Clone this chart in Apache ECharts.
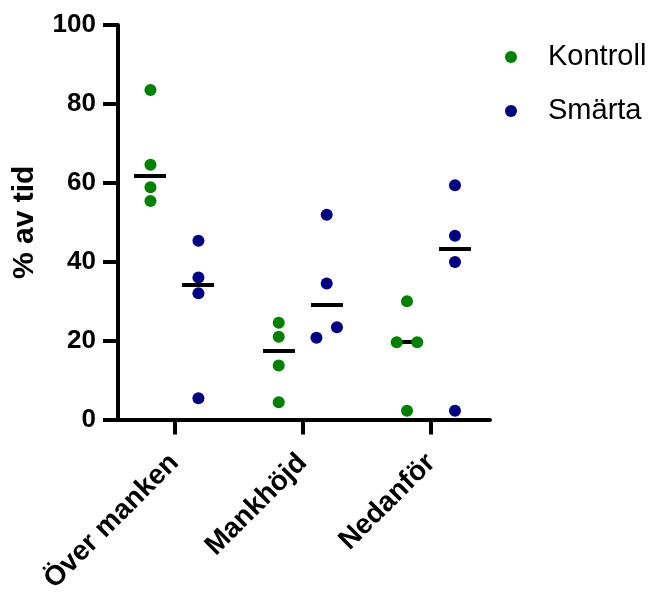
<!DOCTYPE html>
<html>
<head>
<meta charset="utf-8">
<script src="https://cdn.jsdelivr.net/npm/echarts@6/dist/echarts.min.js"></script>
<style>html,body{margin:0;padding:0;background:#fff}#c{width:650px;height:592px}</style>
</head>
<body>
<div id="c"></div>
<script>
const categories = ['Över manken', 'Mankhöjd', 'Nedanför'];
const seriesNames = ['Kontroll', 'Smärta'];
const kontroll = [[83.5, 64.6, 58.9, 55.4], [24.5, 21.0, 13.7, 4.4], [30.0, 19.6, 19.6, 2.2]];
const smarta = [[45.3, 36.0, 32.0, 5.4], [51.9, 34.5, 23.4, 20.7], [59.4, 46.6, 39.9, 2.2]];
const yTicks = [0, 20, 40, 60, 80, 100];

const FONT = '"Liberation Sans", Arial, Helvetica, sans-serif';
const groupOffset = 0.187;
const jitterStep = 0.08;
const closeThreshold = 3;

function median(a) {
  const s = a.slice().sort((x, y) => x - y);
  const n = s.length;
  return n % 2 ? s[(n - 1) / 2] : (s[n / 2 - 1] + s[n / 2]) / 2;
}
// simple beeswarm spreading of overlapping dots
function swarm(values, center) {
  const idx = values.map((v, i) => i).sort((a, b) => values[b] - values[a]);
  const xs = values.map(() => center);
  for (let k = 0; k < idx.length - 1; k++) {
    const a = idx[k], b = idx[k + 1];
    if (xs[a] === center && xs[b] === center && Math.abs(values[a] - values[b]) < closeThreshold) {
      xs[a] = center + jitterStep; xs[b] = center - jitterStep; k++;
    }
  }
  return values.map((v, i) => [xs[i], v]);
}
function build(groups, off) {
  let out = [];
  groups.forEach((vals, ci) => { out = out.concat(swarm(vals, ci + off)); });
  return out;
}
const medData = [];
kontroll.forEach((v, ci) => medData.push([ci - groupOffset, median(v)]));
smarta.forEach((v, ci) => medData.push([ci + groupOffset, median(v)]));

const chart = echarts.init(document.getElementById('c'));
chart.setOption({
  animation: false,
  backgroundColor: '#fff',
  textStyle: { fontFamily: FONT },
  grid: { left: 118, right: 160, top: 25, bottom: 172.5, containLabel: false, outerBoundsMode: 'none' },
  legend: {
    data: seriesNames,
    orient: 'vertical',
    left: 500, top: 37,
    itemWidth: 12, itemHeight: 12, itemGap: 24,
    icon: 'circle',
    textStyle: { fontSize: 29, fontFamily: FONT, color: '#000', lineHeight: 30, padding: [0, 0, 0, 26] }
  },
  xAxis: {
    type: 'value', min: -0.44, max: 2.46,
    splitLine: { show: false },
    axisLine: { show: true, onZero: false, lineStyle: { color: '#000', width: 4 } },
    axisTick: { show: true, customValues: [0, 1, 2], length: 15, lineStyle: { color: '#000', width: 4 } },
    axisLabel: {
      customValues: [0, 1, 2],
      formatter: v => categories[Math.round(v)],
      rotate: 45, margin: 39, fontSize: 28, fontWeight: 'bold', color: '#000', fontFamily: FONT
    }
  },
  yAxis: {
    type: 'value', min: yTicks[0], max: yTicks[yTicks.length - 1], interval: yTicks[1] - yTicks[0],
    name: '% av tid', nameLocation: 'middle', nameGap: 78,
    nameTextStyle: { fontSize: 30, fontWeight: 'bold', color: '#000', fontFamily: FONT },
    splitLine: { show: false },
    axisLine: { show: true, onZero: false, lineStyle: { color: '#000', width: 4 } },
    axisTick: { show: true, length: 15, lineStyle: { color: '#000', width: 4 } },
    axisLabel: { fontSize: 26, fontWeight: 'bold', color: '#000', margin: 22, fontFamily: FONT }
  },
  series: [
    {
      name: 'median', type: 'custom', z: 1, silent: true, data: medData,
      renderItem: function (params, api) {
        const p = api.coord([api.value(0), api.value(1)]);
        return {
          type: 'rect',
          shape: { x: Math.round(p[0] - 16), y: Math.round(p[1] - 2), width: 32, height: 4 },
          style: { fill: '#000' }
        };
      }
    },
    {
      name: seriesNames[0], type: 'scatter', symbolSize: 12, z: 3,
      itemStyle: { color: '#008000', opacity: 1 }, data: build(kontroll, -groupOffset)
    },
    {
      name: seriesNames[1], type: 'scatter', symbolSize: 12, z: 3,
      itemStyle: { color: '#000080', opacity: 1 }, data: build(smarta, groupOffset)
    }
  ]
});
</script>
</body>
</html>
